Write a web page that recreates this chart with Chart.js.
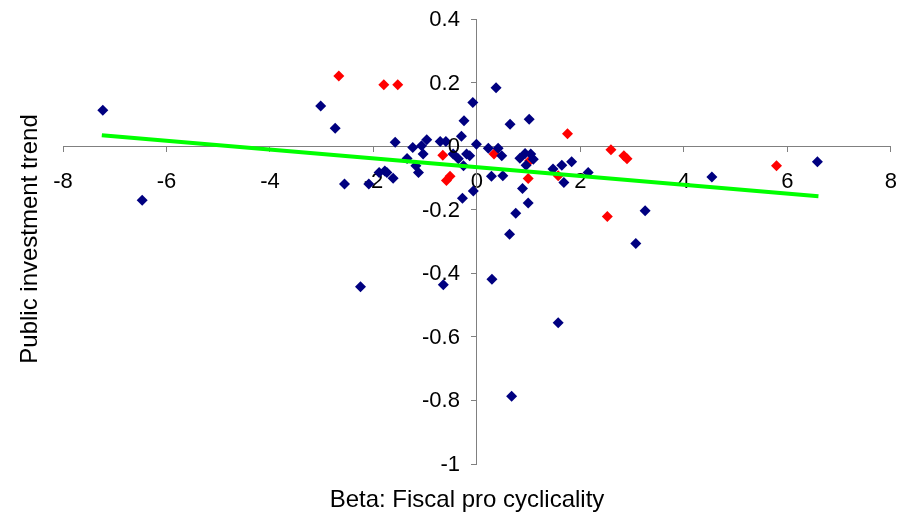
<!DOCTYPE html>
<html>
<head>
<meta charset="utf-8">
<script src="https://cdn.jsdelivr.net/npm/chart.js@4/dist/chart.umd.min.js"></script>
<style>
  html, body { margin: 0; padding: 0; background: #ffffff; }
  #wrap { width: 910px; height: 515px; position: relative; }
</style>
</head>
<body>
<div id="wrap"><canvas id="c" width="910" height="515"></canvas></div>
<script>
// ---- data ----
const blueX = [-7.23,-6.47,-3.02,-2.74,-2.56,-2.09,-2.25,-1.89,-1.74,-1.62,-1.58,-1.35,-1.24,-1.18,-1.13,-1.07,-1.04,-0.97,-0.71,-0.60,-0.46,-0.30,-0.26,-0.25,-0.20,-0.08,-0.14,-0.01,-0.28,-0.07,0.28,0.22,0.37,0.41,0.48,0.50,0.64,1.01,0.83,0.93,1.04,1.09,0.95,0.88,0.99,0.75,1.47,1.64,1.83,1.68,2.15,3.25,3.07,4.54,6.58,-0.65,0.29,0.63,1.57,0.67,-0.36,-1.78];
const blueY = [0.113,-0.170,0.126,0.056,-0.119,-0.119,-0.442,-0.083,-0.083,-0.101,0.012,-0.039,-0.004,-0.062,-0.083,0.001,-0.025,0.020,0.015,0.015,-0.025,0.031,-0.062,0.080,-0.025,0.137,-0.030,0.006,-0.164,-0.141,-0.095,-0.007,0.184,-0.007,-0.030,-0.093,0.069,0.085,-0.038,-0.023,-0.025,-0.041,-0.060,-0.133,-0.179,-0.211,-0.072,-0.060,-0.049,-0.114,-0.083,-0.203,-0.306,-0.097,-0.049,-0.436,-0.419,-0.277,-0.556,-0.787,-0.040,-0.078];
const redX = [-2.67,-1.80,-1.53,-0.66,-0.59,-0.52,0.33,0.99,1.02,1.57,1.75,2.59,2.84,2.90,2.52,5.79];
const redY = [0.221,0.193,0.193,-0.029,-0.108,-0.095,-0.025,-0.102,-0.046,-0.093,0.039,-0.011,-0.030,-0.040,-0.221,-0.062];
const trendX = [-7.25, 6.6];
const trendY = [0.034, -0.158];
const xTitle = 'Beta: Fiscal pro cyclicality';
const yTitle = 'Public investment trend';
const xMin = -8, xMax = 8, xStep = 2;
const yMin = -1, yMax = 0.4, yStep = 0.2;

const toPts = (xs, ys) => xs.map((x, i) => ({x: x, y: ys[i]}));
const FONT = '"Liberation Sans", Arial, sans-serif';
const AXIS = '#808080';

const titlesAndYLabels = {
  id: 'titlesAndYLabels',
  afterDraw(chart) {
    const ctx = chart.ctx;
    const xs = chart.scales.x, ys = chart.scales.y;
    const x0 = xs.getPixelForValue(0);
    ctx.save();
    ctx.fillStyle = '#000';
    ctx.font = '22px ' + FONT;
    ctx.textAlign = 'right';
    ctx.textBaseline = 'middle';
    ys.ticks.forEach(t => {
      const py = ys.getPixelForValue(t.value);
      const lbl = Math.abs(t.value) < 1e-9 ? '0' : String(Math.round(t.value * 10) / 10);
      ctx.fillText(lbl, x0 - 17, py + 1);
    });
    ctx.font = '24px ' + FONT;
    ctx.textAlign = 'center';
    ctx.textBaseline = 'alphabetic';
    ctx.fillText(xTitle, 467, 507);
    ctx.translate(37, 239);
    ctx.rotate(-Math.PI / 2);
    ctx.fillText(yTitle, 0, 0);
    ctx.restore();
  }
};

new Chart(document.getElementById('c'), {
  type: 'scatter',
  data: {
    datasets: [
      {
        type: 'line',
        data: toPts(trendX, trendY),
        borderColor: '#00FF00',
        borderWidth: 4,
        pointRadius: 0,
        fill: false,
        tension: 0
      },
      {
        data: toPts(blueX, blueY),
        pointStyle: 'rectRot',
        pointRadius: 5.5,
        pointHoverRadius: 5.5,
        backgroundColor: '#000080',
        borderColor: '#000080',
        pointBorderWidth: 0
      },
      {
        data: toPts(redX, redY),
        pointStyle: 'rectRot',
        pointRadius: 5.5,
        pointHoverRadius: 5.5,
        backgroundColor: '#FF0000',
        borderColor: '#FF0000',
        pointBorderWidth: 0
      }
    ]
  },
  options: {
    responsive: false,
    animation: false,
    events: [],
    layout: { padding: { left: 63, right: 19, top: 19, bottom: 51 } },
    plugins: { legend: { display: false }, tooltip: { enabled: false } },
    scales: {
      x: {
        type: 'linear',
        position: { y: 0 },
        min: xMin, max: xMax,
        ticks: { stepSize: xStep, color: '#000', font: { family: FONT, size: 22, lineHeight: 1.65 }, padding: 13 },
        grid: { drawOnChartArea: false, drawTicks: true, tickLength: 5, color: AXIS },
        border: { display: true, color: AXIS, width: 1 }
      },
      y: {
        type: 'linear',
        position: { x: 0 },
        min: yMin, max: yMax,
        ticks: { stepSize: yStep, display: false },
        grid: { drawOnChartArea: false, drawTicks: true, tickLength: 5, color: AXIS },
        border: { display: true, color: AXIS, width: 1 }
      }
    }
  },
  plugins: [titlesAndYLabels]
});
</script>
</body>
</html>
